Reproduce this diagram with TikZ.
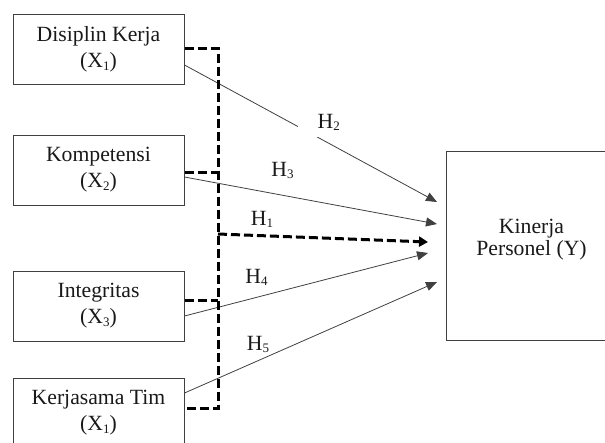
\documentclass[tikz,border=0pt]{standalone}
\usepackage{fontspec}
\setmainfont{Liberation Serif}
\usetikzlibrary{arrows.meta,calc}
\newcommand\mysubx[1]{\raisebox{-2.5pt}{\fontsize{13}{13}\selectfont #1}}
\begin{document}
\begin{tikzpicture}[x=1pt,y=-1pt,
  box/.style={draw=black!75,line width=1pt,minimum width=171pt,minimum height=70pt,align=center,inner sep=0pt,
    font=\fontsize{21.7}{26}\selectfont,text=black!90},
  ybox/.style={draw=black!75,line width=1pt,minimum width=171pt,minimum height=189pt,inner sep=0pt},
  hlab/.style={font=\fontsize{21.7}{26}\selectfont,text=black!90,inner sep=0pt},
  solidarrow/.style={draw=black!75,line width=0.8pt,-{Triangle[length=11pt,width=9pt]}},
  dashline/.style={line width=3pt,dash pattern=on 9pt off 4pt,line cap=butt,line join=miter},
  dasharrow/.style={line width=3pt,dash pattern=on 9pt off 4pt,-{Triangle[length=9pt,width=10pt]}},
]
\path[use as bounding box,clip] (0,0) rectangle (605,442);

\node[box] (b1) at (98.5,49.5) {Disiplin Kerja\\(X\mysubx{1})};
\node[box] (b2) at (98.5,170) {Kompetensi\\(X\mysubx{2})};
\node[box] (b3) at (98.5,306) {Integritas\\(X\mysubx{3})};
\node[box] (b4) at (98.5,413) {Kerjasama Tim\\(X\mysubx{1})};
\node[ybox] (y) at (531.5,245.5) {};
\node[align=center,font=\fontsize{21.7}{22}\selectfont,text=black!90,inner sep=0pt] (ytext) at (531.5,240) {Kinerja\\Personel (Y)};

% coordinates
\coordinate (c1) at (218,48);
\coordinate (c4) at (218,408);
\coordinate (j) at (218,234);
\coordinate (e1) at (428,242);
\coordinate (e2) at (437,202);
\coordinate (e3) at (437,224);
\coordinate (e4) at (428,253);
\coordinate (e5) at (437,282);

% solid arrows
\draw[solidarrow] ([yshift=-15.5pt]b1.east) -- (e2);
\draw[solidarrow] ([yshift=-7pt]b2.east) -- (e3);
\draw[solidarrow] ([yshift=-10pt]b3.east) -- (e4);
\draw[solidarrow] ([yshift=20pt]b4.east) -- (e5);

% dashed bracket
\draw[dashline] ([yshift=1.5pt]b1.east) -- (c1) -- (c4) -- ([yshift=5pt]b4.east);
\draw[dashline] ([yshift=-2pt]b2.east) -- ([yshift=-2pt]b2.east -| c1);
\draw[dashline] ([yshift=6pt]b3.east) -- ([yshift=6pt]b3.east -| c1);
\draw[dasharrow] (j) -- (e1);

% labels
\node[hlab,fill=white,text width=40pt,align=right,inner xsep=2pt,inner ysep=6pt,anchor=base east] (h2) at (342,128) {H\mysubx{2}};
\node[hlab,anchor=base] (h3) at (282.5,176) {H\mysubx{3}};
\node[hlab,anchor=base] (h1) at (262,225) {H\mysubx{1}};
\node[hlab,anchor=base] (h4) at (256.5,283) {H\mysubx{4}};
\node[hlab,anchor=base] (h5) at (258,350) {H\mysubx{5}};
\end{tikzpicture}
\end{document}
